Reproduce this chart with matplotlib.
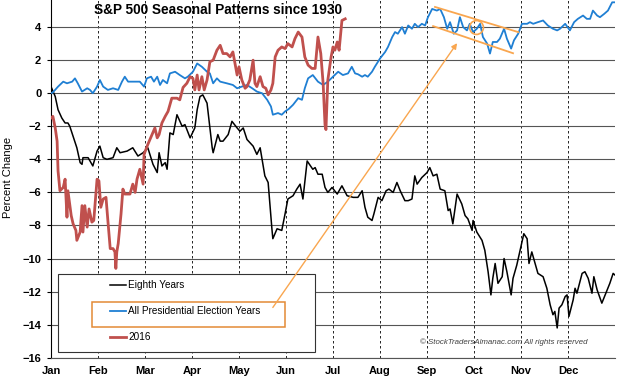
import matplotlib
matplotlib.use('Agg')
import matplotlib.pyplot as plt
from matplotlib.patches import Rectangle

plt.rcParams['font.family'] = ['Liberation Sans', 'DejaVu Sans']

# Month labels and y ticks
months = ['Jan', 'Feb', 'Mar', 'Apr', 'May', 'Jun',
          'Jul', 'Aug', 'Sep', 'Oct', 'Nov', 'Dec']
y_ticks = list(range(-16, 5, 2))

# x is position in the year, in months (0 = Jan 1, 12 = Dec 31)
eighth_x = [0.00, 0.09, 0.15, 0.23, 0.30, 0.36, 0.40, 0.47, 0.55, 0.62, 0.66, 0.68, 0.79, 0.89, 0.98,
            1.04, 1.11, 1.19, 1.32, 1.40, 1.47, 1.62, 1.74, 1.85, 1.96,
            2.06, 2.17, 2.26, 2.30, 2.36, 2.43, 2.47, 2.53, 2.60, 2.68, 2.79, 2.85, 2.96,
            3.06, 3.11, 3.17, 3.23, 3.32, 3.36, 3.43, 3.45, 3.55, 3.60, 3.66, 3.77, 3.85, 3.96,
            4.02, 4.09, 4.17, 4.30, 4.38, 4.45, 4.55, 4.62, 4.70, 4.72, 4.81, 4.91, 4.98,
            5.04, 5.15, 5.23, 5.30, 5.36, 5.45, 5.57, 5.62, 5.68, 5.77, 5.83, 5.89, 5.98,
            6.09, 6.19, 6.30, 6.43, 6.53, 6.62, 6.68, 6.74, 6.83, 6.87, 6.96,
            7.04, 7.13, 7.19, 7.28, 7.36, 7.43, 7.53, 7.60, 7.68, 7.74, 7.79, 7.89,
            8.00, 8.06, 8.13, 8.21, 8.28, 8.38, 8.45, 8.49, 8.55, 8.64, 8.74, 8.81, 8.87, 8.96, 8.98,
            9.06, 9.17, 9.23, 9.30, 9.36, 9.40, 9.45, 9.51, 9.60, 9.64, 9.70, 9.79, 9.83, 9.91, 9.98,
            10.06, 10.13, 10.17, 10.23, 10.30, 10.36, 10.47, 10.55, 10.62, 10.68, 10.72, 10.77, 10.81, 10.87, 10.94, 10.98,
            11.02, 11.11, 11.15, 11.19, 11.30, 11.36, 11.43, 11.51, 11.55, 11.62, 11.72, 11.79, 11.89, 11.96, 12.00]
eighth_y = [0.4, -0.2, -1.0, -1.5, -1.8, -1.8, -2.0, -2.6, -3.3, -4.2, -4.3, -3.9, -3.9, -4.4, -3.5,
            -3.2, -3.9, -4.0, -3.9, -3.3, -3.6, -3.5, -3.3, -3.8, -3.6,
            -3.3, -4.3, -4.8, -3.6, -4.4, -4.2, -4.6, -2.4, -2.5, -1.3, -2.0, -1.9, -2.7,
            -2.1, -1.0, -0.2, -0.1, -0.6, -1.6, -3.3, -3.6, -2.5, -2.9, -2.9, -2.5, -1.7, -2.1,
            -2.3, -2.1, -2.8, -3.2, -3.7, -3.3, -5.0, -5.4, -8.2, -8.8, -8.2, -8.3, -7.3,
            -6.4, -6.2, -5.8, -5.5, -6.4, -4.1, -4.6, -4.5, -4.9, -4.9, -5.7, -6.0, -5.7,
            -6.1, -5.6, -6.2, -6.3, -6.3, -5.9, -6.9, -7.5, -7.7, -7.3, -6.3,
            -6.5, -5.9, -5.8, -6.0, -5.4, -5.9, -6.5, -6.5, -6.4, -5.0, -5.5, -5.1,
            -4.8, -4.5, -5.0, -4.9, -5.8, -5.9, -7.1, -7.0, -7.9, -6.1, -6.7, -7.4, -7.6, -8.3, -7.7,
            -8.4, -8.9, -9.5, -10.8, -12.2, -11.2, -10.3, -11.5, -11.1, -10.0, -10.8, -12.2, -11.2, -10.4, -9.5,
            -8.5, -8.8, -10.3, -9.6, -10.3, -10.9, -11.1, -11.8, -12.8, -13.4, -13.2, -14.2, -13.0, -12.8, -12.3, -12.2,
            -13.5, -12.5, -11.8, -12.1, -10.9, -10.8, -11.2, -12.1, -11.1, -11.9, -12.7, -12.2, -11.5, -10.9, -11.0]

election_x = [0.00, 0.04, 0.15, 0.26, 0.34, 0.45, 0.51, 0.57, 0.66, 0.77, 0.83, 0.89, 0.98,
              1.04, 1.11, 1.21, 1.32, 1.43, 1.51, 1.57, 1.64, 1.74, 1.89, 1.98,
              2.04, 2.13, 2.19, 2.26, 2.32, 2.38, 2.47, 2.53, 2.64, 2.74, 2.85, 2.91,
              3.02, 3.11, 3.21, 3.32, 3.38, 3.45, 3.53, 3.60, 3.74, 3.87, 3.96,
              4.06, 4.17, 4.28, 4.38, 4.49, 4.60, 4.68, 4.72, 4.83, 4.91, 4.98,
              5.06, 5.15, 5.26, 5.34, 5.40, 5.47, 5.57, 5.68, 5.79, 5.89, 6.00,
              6.11, 6.21, 6.32, 6.40, 6.47, 6.53, 6.62, 6.68, 6.74, 6.83, 6.89, 7.00,
              7.11, 7.17, 7.26, 7.32, 7.38, 7.47, 7.53, 7.60, 7.68, 7.74, 7.81, 7.89, 7.96,
              8.02, 8.11, 8.21, 8.28, 8.36, 8.43, 8.49, 8.57, 8.64, 8.70, 8.77, 8.85, 8.91, 8.98,
              9.06, 9.13, 9.19, 9.28, 9.34, 9.40, 9.49, 9.55, 9.64, 9.70, 9.79, 9.85, 9.94,
              10.02, 10.13, 10.19, 10.26, 10.36, 10.47, 10.57, 10.68, 10.77, 10.83, 10.94,
              11.04, 11.13, 11.21, 11.32, 11.40, 11.47, 11.53, 11.62, 11.68, 11.77, 11.85, 11.94, 12.00]
election_y = [0.0, 0.05, 0.4, 0.7, 0.6, 0.7, 0.9, 0.6, 0.1, 0.3, 0.2, 0.0, 0.4,
              0.8, 0.4, 0.2, 0.3, 0.2, 0.7, 1.0, 0.7, 0.7, 0.7, 0.4,
              0.9, 1.0, 0.7, 1.0, 0.5, 0.8, 0.6, 1.2, 1.3, 1.1, 0.9, 1.0,
              1.3, 1.8, 1.6, 1.3, 1.2, 0.6, 0.9, 0.7, 0.6, 0.5, 0.3,
              0.4, 0.5, 0.3, 0.1, 0.0, -0.4, -0.8, -1.3, -1.2, -1.3, -1.1,
              -0.95, -0.7, -0.3, -0.4, 0.3, 0.9, 1.1, 0.7, 0.5, 0.7, 1.0,
              1.3, 1.1, 1.2, 1.6, 1.2, 1.15, 1.0, 1.1, 1.0, 1.3, 1.6, 2.1,
              2.5, 2.8, 3.4, 3.7, 3.6, 4.0, 3.6, 4.1, 3.9, 4.2, 4.0, 4.2, 4.1,
              4.6, 5.1, 5.0, 5.1, 4.6, 3.9, 4.3, 3.6, 3.8, 4.6, 4.0, 3.8, 4.2, 3.7,
              3.9, 4.2, 3.4, 3.0, 2.4, 3.1, 3.1, 3.3, 3.9, 3.3, 2.7, 3.2, 3.6,
              4.2, 4.2, 4.3, 4.2, 4.3, 4.4, 4.1, 3.9, 3.8, 3.9, 4.2,
              3.8, 4.3, 4.5, 4.7, 4.5, 4.5, 5.0, 4.7, 4.6, 4.8, 5.0, 5.5, 5.5]

y2016_x = [0.00, 0.04, 0.09, 0.13, 0.15, 0.19, 0.26, 0.30, 0.34, 0.36, 0.43, 0.47, 0.53, 0.55, 0.62,
           0.66, 0.68, 0.72, 0.77, 0.81, 0.87, 0.91, 0.98,
           1.02, 1.06, 1.11, 1.17, 1.21, 1.26, 1.32, 1.36, 1.38, 1.40, 1.43, 1.49, 1.53, 1.57,
           1.68, 1.74, 1.79, 1.83, 1.89, 1.96, 1.98,
           2.06, 2.15, 2.21, 2.26, 2.30, 2.36, 2.43, 2.49, 2.57, 2.68, 2.74, 2.81, 2.89, 2.96,
           3.02, 3.06, 3.11, 3.15, 3.21, 3.26, 3.32, 3.38, 3.45, 3.53, 3.60, 3.66, 3.74, 3.81, 3.87, 3.96,
           4.00, 4.06, 4.13, 4.17, 4.23, 4.30, 4.34, 4.38, 4.45, 4.51, 4.57, 4.62, 4.68, 4.72, 4.77,
           4.83, 4.91, 4.98,
           5.04, 5.13, 5.19, 5.26, 5.34, 5.40, 5.47, 5.55, 5.62, 5.68, 5.74, 5.79, 5.83, 5.85, 5.89, 5.96,
           6.00, 6.04, 6.09, 6.13, 6.19, 6.26]
y2016_y = [-1.5, -1.4, -2.1, -2.9, -4.7, -5.9, -5.7, -5.2, -7.5, -5.9, -7.4, -7.9, -8.3, -8.9, -8.4,
           -6.8, -8.4, -6.8, -8.1, -7.0, -7.8, -7.7, -5.2,
           -5.3, -6.9, -6.4, -6.3, -7.7, -9.4, -9.4, -9.6, -10.6, -9.6, -9.1, -7.3, -5.8, -6.1,
           -6.1, -5.5, -6.0, -5.2, -4.6, -5.5, -3.7,
           -3.1, -2.5, -2.1, -2.7, -2.5, -1.8, -1.4, -1.1, -0.3, -0.3, -0.4, 0.35, 0.6, 1.0,
           0.9, 0.2, 1.1, 0.2, 1.0, 0.2, 0.8, 1.9, 2.0, 2.6, 2.9, 2.4, 2.4, 2.2, 2.5, 1.1,
           1.6, 0.8, 0.3, 0.4, 0.8, 2.0, 0.6, 0.4, 1.0, 0.4, 0.3, -0.1, 0.2, 0.6, 2.2,
           2.6, 2.8, 2.7,
           3.0, 2.8, 3.3, 3.7, 3.4, 2.2, 1.7, 1.5, 1.5, 3.4, 2.4, 0.6, -1.9, -2.2, 0.8, 2.2,
           2.8, 2.6, 3.1, 2.6, 4.4, 4.5]

# Hand-drawn annotation (trend channel, circle, arrow) in data units
channel_top_x = [8.17, 9.94]
channel_top_y = [5.22, 3.70]
channel_bot_x = [8.13, 9.83]
channel_bot_y = [4.06, 2.42]
circle_xy = (9.04, 4.0)
arrow_from = (4.72, -12.96)
arrow_to = (8.64, 3.03)

orange = '#f9a64f'

fig = plt.figure(figsize=(6.2, 3.81), dpi=100)
ax = fig.add_axes([51 / 620, 1 - 357.7 / 381, 564 / 620, 357.7 / 381])

ax.set_xlim(0, 12)
ax.set_ylim(-16, 5.64)
ax.set_xticks(range(13))
ax.set_xticklabels(months + [''])
ax.set_yticks(y_ticks)
ax.tick_params(axis='x', length=0, pad=6, labelsize=8)
ax.tick_params(axis='y', length=3, width=0.8, pad=4, labelsize=8)
for lbl in ax.get_xticklabels() + ax.get_yticklabels():
    lbl.set_fontweight('bold')

ax.grid(axis='y', color='#555555', lw=0.8)
ax.grid(axis='x', color='black', lw=0.6, ls=(0, (3, 3)))
ax.set_axisbelow(True)
ax.spines['top'].set_visible(False)
ax.spines['right'].set_visible(False)
ax.spines['left'].set_linewidth(0.8)
ax.spines['bottom'].set_color('#555555')
ax.spines['bottom'].set_linewidth(0.8)

l1, = ax.plot(eighth_x, eighth_y, color='black', lw=1.1, zorder=3)
l2, = ax.plot(election_x, election_y, color='#1f7fd3', lw=1.3, zorder=3)
l3, = ax.plot(y2016_x, y2016_y, color='#c0504d', lw=2.0, zorder=4)

# Legend box and entries
ax.add_patch(Rectangle((0.15, -15.64), 5.47, 4.69, facecolor='white',
                       edgecolor='#333333', lw=0.8, zorder=5))
leg = ax.legend([l1, l2, l3], ['Eighth Years', 'All Presidential Election Years', '2016'],
                loc='upper left', bbox_to_anchor=(110 / 620, 1 - 280 / 381),
                bbox_transform=fig.transFigure, frameon=False, fontsize=7.2,
                handlelength=1.6, handletextpad=0.2, labelspacing=1.62,
                borderpad=0, borderaxespad=0)
leg.set_zorder(6)
ax.add_patch(Rectangle((0.87, -14.12), 4.11, 1.46, fill=False,
                       edgecolor='#e38a35', lw=1.1, zorder=7))

# Annotation
ax.plot(channel_top_x, channel_top_y, color=orange, lw=1.3, zorder=6)
ax.plot(channel_bot_x, channel_bot_y, color=orange, lw=1.3, zorder=6)
ax.plot(*circle_xy, marker='o', ms=10, mfc='none', mec=orange, mew=1.2, zorder=6)
ax.annotate('', xy=arrow_to, xytext=arrow_from,
            arrowprops=dict(arrowstyle='-|>', color=orange, lw=1.0,
                            mutation_scale=8, shrinkA=0, shrinkB=0), zorder=8)

fig.text(218 / 620, 1 - 10 / 381, 'S&P 500 Seasonal Patterns since 1930',
         ha='center', va='center', fontsize=9.8, fontweight='bold')
fig.text(8 / 620, 1 - 177 / 381, 'Percent Change', rotation=90,
         ha='center', va='center', fontsize=8)
fig.text(420 / 620, 1 - 342 / 381, '\u00a9 StockTradersAlmanac.com All rights reserved',
         ha='left', va='center', fontsize=5.7, style='italic', color='#404040')

fig.savefig('out.png', dpi=100)
